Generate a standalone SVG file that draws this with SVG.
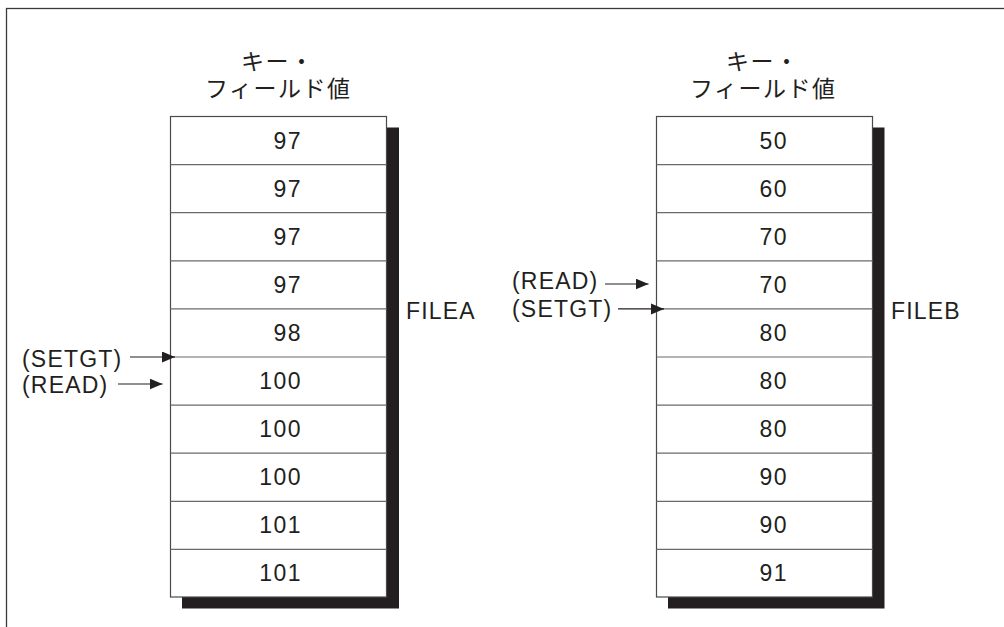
<svg xmlns="http://www.w3.org/2000/svg" width="1004" height="627" viewBox="0 0 1004 627">
  <style>
    .frame{fill:none;stroke:#3a3a3a;stroke-width:1.3}
    .tbl{fill:#fff;stroke:#4a4a4a;stroke-width:1.2}
    .div{stroke:#6a6a6a;stroke-width:1.2}
    .shadow{fill:#231f20}
    .num{font-family:"Liberation Sans",Arial,sans-serif;font-size:23px;letter-spacing:1.5px;fill:#231f20;text-anchor:end}
    .lbl{font-family:"Liberation Sans",Arial,sans-serif;font-size:23px;letter-spacing:1.2px;fill:#231f20}
    .hdr{font-family:"Noto Sans CJK JP","Noto Sans",sans-serif;font-size:23px;letter-spacing:1.5px;fill:#231f20}
    .arr{stroke:#231f20;stroke-width:1.2;fill:none;marker-end:url(#ah)}
  </style>
  <defs>
    <marker id="ah" markerUnits="userSpaceOnUse" markerWidth="14" markerHeight="12" refX="13" refY="5.5" orient="auto">
      <path d="M0,0 L13,5.5 L0,11 Z" fill="#231f20"/>
    </marker>
  </defs>
  <rect width="1004" height="627" fill="#fff"/>
  <rect class="frame" x="6.5" y="8.5" width="1100" height="700"/>

  <g id="fileA">
    <text class="hdr" x="241" y="70">キー・</text>
    <text class="hdr" x="205" y="97">フィールド値</text>
    <rect class="shadow" x="182" y="127.5" width="217" height="481"/>
    <rect class="tbl" x="170.5" y="116.5" width="216" height="480.5"/>
    <g class="div">
      <line x1="170.5" y1="164.6" x2="386.5" y2="164.6"/>
      <line x1="170.5" y1="212.7" x2="386.5" y2="212.7"/>
      <line x1="170.5" y1="260.8" x2="386.5" y2="260.8"/>
      <line x1="170.5" y1="308.9" x2="386.5" y2="308.9"/>
      <line x1="170.5" y1="357" x2="386.5" y2="357"/>
      <line x1="170.5" y1="405.1" x2="386.5" y2="405.1"/>
      <line x1="170.5" y1="453.2" x2="386.5" y2="453.2"/>
      <line x1="170.5" y1="501.3" x2="386.5" y2="501.3"/>
      <line x1="170.5" y1="549.4" x2="386.5" y2="549.4"/>
    </g>
    <text class="num" x="302" y="148.5">97</text>
    <text class="num" x="302" y="196.6">97</text>
    <text class="num" x="302" y="244.7">97</text>
    <text class="num" x="302" y="292.8">97</text>
    <text class="num" x="302" y="340.9">98</text>
    <text class="num" x="302" y="389">100</text>
    <text class="num" x="302" y="437.1">100</text>
    <text class="num" x="302" y="485.2">100</text>
    <text class="num" x="302" y="533.3">101</text>
    <text class="num" x="302" y="581.4">101</text>
    <text class="lbl" x="406" y="319">FILEA</text>
  </g>

  <g id="fileB">
    <text class="hdr" x="726" y="70">キー・</text>
    <text class="hdr" x="690" y="97">フィールド値</text>
    <rect class="shadow" x="668" y="127.5" width="216.5" height="481"/>
    <rect class="tbl" x="656.5" y="116.5" width="216" height="480.5"/>
    <g class="div">
      <line x1="656.5" y1="164.6" x2="872.5" y2="164.6"/>
      <line x1="656.5" y1="212.7" x2="872.5" y2="212.7"/>
      <line x1="656.5" y1="260.8" x2="872.5" y2="260.8"/>
      <line x1="656.5" y1="308.9" x2="872.5" y2="308.9"/>
      <line x1="656.5" y1="357" x2="872.5" y2="357"/>
      <line x1="656.5" y1="405.1" x2="872.5" y2="405.1"/>
      <line x1="656.5" y1="453.2" x2="872.5" y2="453.2"/>
      <line x1="656.5" y1="501.3" x2="872.5" y2="501.3"/>
      <line x1="656.5" y1="549.4" x2="872.5" y2="549.4"/>
    </g>
    <text class="num" x="788" y="148.5">50</text>
    <text class="num" x="788" y="196.6">60</text>
    <text class="num" x="788" y="244.7">70</text>
    <text class="num" x="788" y="292.8">70</text>
    <text class="num" x="788" y="340.9">80</text>
    <text class="num" x="788" y="389">80</text>
    <text class="num" x="788" y="437.1">80</text>
    <text class="num" x="788" y="485.2">90</text>
    <text class="num" x="788" y="533.3">90</text>
    <text class="num" x="788" y="581.4">91</text>
    <text class="lbl" x="891" y="319">FILEB</text>
  </g>

  <g id="pointerLabels">
    <text class="lbl" x="22" y="366.5">(SETGT)</text>
    <text class="lbl" x="22" y="393">(READ)</text>
    <text class="lbl" x="512" y="289">(READ)</text>
    <text class="lbl" x="512" y="316.5">(SETGT)</text>
  </g>

  <g id="connectors">
    <line class="arr" x1="130" y1="357" x2="175" y2="357"/>
    <line class="arr" x1="118" y1="384" x2="162.5" y2="384"/>
    <line class="arr" x1="605" y1="284" x2="648.5" y2="284"/>
    <line class="arr" x1="618" y1="308.9" x2="664" y2="308.9"/>
  </g>
</svg>
